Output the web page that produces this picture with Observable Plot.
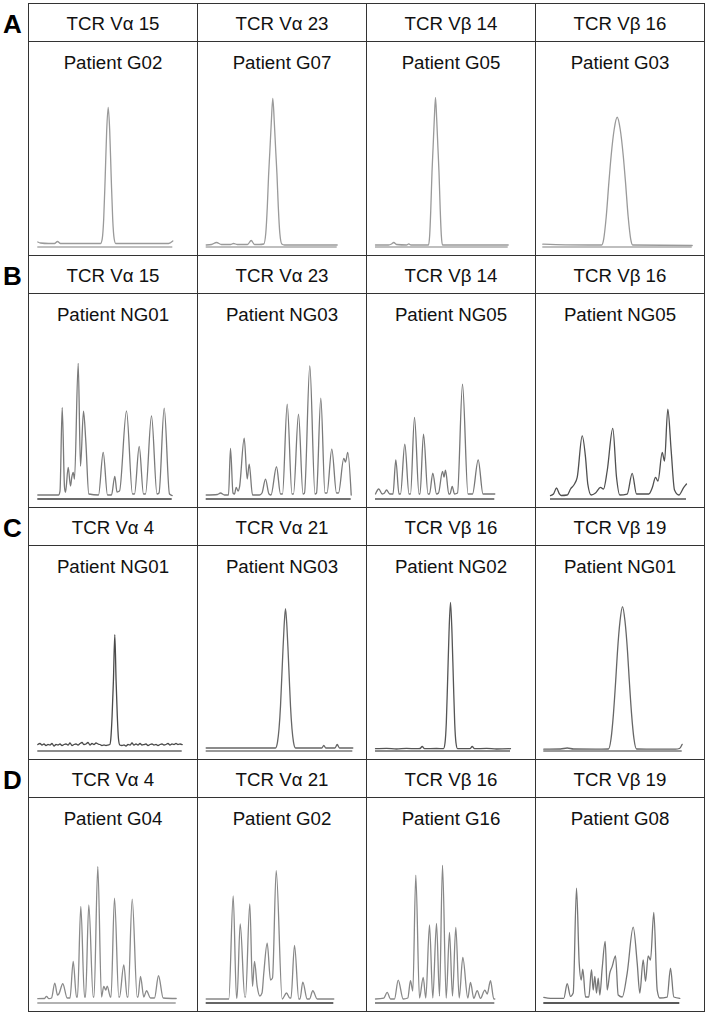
<!DOCTYPE html>
<html>
<head>
<meta charset="utf-8">
<script src="https://cdn.jsdelivr.net/npm/d3@7"></script>
<script src="https://cdn.jsdelivr.net/npm/@observablehq/plot@0.6"></script>
<style>
  html, body { margin: 0; padding: 0; background: #fff; }
  #chart svg { display: block; }
</style>
</head>
<body>
<div id="chart"></div>
<script>
// ---------- labels ----------
const rowLetters = ["A", "B", "C", "D"];
const genes = [
  ["TCR Vα 15", "TCR Vα 23", "TCR Vβ 14", "TCR Vβ 16"],
  ["TCR Vα 15", "TCR Vα 23", "TCR Vβ 14", "TCR Vβ 16"],
  ["TCR Vα 4", "TCR Vα 21", "TCR Vβ 16", "TCR Vβ 19"],
  ["TCR Vα 4", "TCR Vα 21", "TCR Vβ 16", "TCR Vβ 19"]
];
const patients = [
  ["Patient G02", "Patient G07", "Patient G05", "Patient G03"],
  ["Patient NG01", "Patient NG03", "Patient NG05", "Patient NG05"],
  ["Patient NG01", "Patient NG03", "Patient NG02", "Patient NG01"],
  ["Patient G04", "Patient G02", "Patient G16", "Patient G08"]
];

// ---------- traces: [position, intensity] ----------
const traceA1 = [[9.3,5],[12,4],[20,3.5],[26,3.5],[29,5.5],[32,3.5],[50,3.5],[72,3.5],[73.7,8],[75.2,28],[76.7,70],[78.2,117],[79.7,140],[81.2,117],[82.7,70],[84.2,28],[85.7,8],[87.2,3.5],[120,3.5],[140,3.5],[144.3,6]];
const traceA2 = [[8.7,2],[14,2.5],[19,4.5],[24,2.5],[33,2.5],[36,3.5],[40,2.5],[50,2.5],[53.7,6.5],[57,2.5],[62,2.5],[66.3,3],[68.3,14],[69.8,40],[71.1,72],[72.3,95],[73.8,125],[75.3,149],[76.8,125],[78.3,95],[79.5,72],[80.8,40],[82.3,14],[84.3,3],[87,2],[139.7,2]];
const traceA3 = [[9,2],[22,2],[25,3],[27.3,4.5],[30,2.5],[40,2],[42.3,3.2],[44.5,2],[62,2],[63.2,12],[64.3,38],[65.5,75],[66.6,100],[67.8,128],[69,150],[70.2,128],[71.4,100],[72.5,75],[73.7,38],[74.8,12],[76,2],[141.7,2]];
const traceA4 = [[7.3,2.8],[30,2.2],[66.2,2],[68.2,8],[70.7,30],[73.4,65],[75.7,92],[78.7,118],[81.7,130],[84.7,118],[87.7,92],[90,65],[92.7,30],[95.2,8],[97.2,2],[156.7,1.5]];

const traceB1 = [[9.3,4],[30,4],[31.5,8],[33.7,91.7],[36,12],[37,6.7],[39.7,31.7],[42,13],[43.3,22],[44.7,26.7],[46,20],[49.7,136],[52,33],[55,88],[57.3,58],[60.3,5],[70,4],[74.7,46.7],[79,4],[83,4],[86.3,22.7],[88.5,7],[91,8],[98,88.3],[104,5],[106,5],[110.7,52.7],[115,5],[117,5],[123,83.3],[128.5,5],[130.5,6],[135.7,91],[141,5],[143.7,3.5]];
const traceB2 = [[8.7,4],[20,4.5],[23,6],[27,4],[31,4],[33,50.7],[35.5,6],[37,5],[38.7,11.7],[40.5,8],[42,12],[46.7,61],[49.7,20],[51.7,35],[55,4],[62,4],[64.5,6],[68,20],[71.5,5],[73.5,4],[79,32.3],[83,5],[85,5],[89.7,95],[94.5,5],[96,5],[101,85],[105.5,5],[107,6],[112.3,133.3],[117.5,5],[119,6],[123.3,101],[127.5,6],[129.5,6],[134.3,50],[139,6],[141,6],[146.3,40.7],[148,37],[150.3,46.7],[153.7,4]];
const traceB3 = [[9,5],[12.3,10],[15.7,5],[18,6],[20,9],[23.3,5],[26.5,5],[29.3,39.3],[32.5,5],[34,5],[38.3,55],[42.5,5],[44,5],[48,81.7],[52.5,5],[53.5,5],[57,65],[61.5,5],[63,5],[66.3,26],[70,5],[72,6],[76,27.7],[77.5,22],[79,29],[82.3,5],[83.5,5],[85.7,12.7],[88,5],[91,6],[96,115],[101.5,5],[106,5],[111.7,39.3],[116.5,5],[128.3,5]];
const traceB4 = [[15,3.3],[18,5],[21,11],[24,5],[25.7,3.5],[31.7,4],[35,10],[39,15],[41.7,21.7],[46.7,63.3],[50,42],[52.3,15],[55.7,4],[60,6],[65,11.7],[68,10],[71.7,28.3],[77.3,70.7],[81,22],[84.3,4],[91.7,5],[96.7,25.7],[101,5],[113.3,5],[117,12],[120,21.7],[122.5,18],[126.7,46.7],[129,38],[132.3,90],[135.7,48],[139,9],[143.3,4],[148.3,11.7],[151,15]];

const traceC1 = [[9.3,6.5],[11.5,7.5],[13.5,6],[15.5,7],[17.5,5.5],[19.5,6.5],[21.5,6],[23.5,7.5],[25.5,5],[27.5,6.5],[29.5,6],[31.5,7],[33.5,5.5],[35.5,6.5],[37.5,7],[39.5,6],[41.5,8],[43.5,5.5],[45.5,6.5],[47.5,7],[49.5,6],[51.5,7.5],[53.5,8.5],[55.5,6.5],[57.5,7],[59.5,8.5],[61.5,6],[63.5,7.5],[65.5,6.5],[67.5,8],[69.5,7],[71.5,6.5],[73.5,5.5],[75.5,6],[77.5,5.5],[79.5,6],[81.3,6.5],[82.3,12],[83.6,35],[84.9,70],[86.3,116.7],[87.6,70],[88.8,35],[90,12],[91.3,6],[93.5,5.5],[95.5,6],[97.5,5],[99.5,6.5],[101.5,6],[103.5,8],[105.5,6],[107.5,7],[109.5,6],[111.5,7.5],[113.5,6],[115.5,6.5],[117.5,7],[119.5,5.5],[121.5,6.5],[123.5,7],[125.5,6],[127.5,6.5],[129.5,5.5],[131.5,6.5],[133.5,7],[135.5,6],[137.5,6.5],[139.5,7.5],[141.5,6],[143.5,7],[145.5,6.5],[147.5,7.5],[149.5,6.5],[151.5,7],[153.7,6.5]];
const traceC2 = [[8.7,3],[40,3],[78,3],[80,9],[81.5,22],[83,45],[84.2,72],[85.4,100],[86.6,125],[88,142.7],[89.4,125],[90.6,100],[91.8,72],[93,45],[94.5,22],[96,9],[98,3],[122,3],[124.3,3],[126.3,5.5],[128.3,3],[137.5,3],[139.7,6.5],[142,3],[155.3,3]];
const traceC3 = [[9,2.3],[20,2.6],[30,2],[40,2.6],[50,2.3],[53.5,2.5],[55.7,4.5],[58,2.3],[70,2.5],[77,2.3],[78.5,8],[79.8,28],[81.1,70],[82.5,118],[84,149],[85.5,118],[86.9,70],[88.2,28],[89.5,8],[91,2.3],[103.5,2.3],[105.7,4.5],[108,2.3],[120,2.6],[130,2],[144,2.3]];
const traceC4 = [[8.3,1.8],[25,2],[31.7,3],[38,2],[60,1.8],[73,2],[75.5,12],[78,38],[80.3,72],[82,100],[84.5,130],[87,144.7],[89.5,130],[92,100],[93.7,72],[96,38],[98.5,12],[101,2],[120,1.8],[140,1.8],[144,2.5],[146.7,6.7]];

const traceD1 = [[9.3,4.3],[16,4.5],[18,6.7],[20.5,4.3],[23,5],[26.3,20],[29,8],[30.3,9],[34.3,19.3],[38.7,5],[41.5,5],[44.7,41.7],[48,6],[49,6],[52.3,96.7],[56,6],[57,6],[60.3,98.3],[64.7,6],[65.5,6],[69.3,136.7],[73,6],[75.3,16.7],[77.3,13],[78.7,17],[82,6],[82.5,6],[86,105],[90.3,6],[91,6],[95.3,38.3],[98.7,6],[99.5,6],[103.7,104],[108.7,6],[109.5,6],[112,26.7],[115.3,6],[118,12.3],[122,5],[126,5],[130,27.3],[134.7,5],[147.7,4.5]];
const traceD2 = [[8.7,4],[31.3,4],[35.7,107.3],[39,5],[39.5,5],[42.7,79.3],[47.3,6],[48,6],[52.3,99.3],[55,16.7],[57,41.7],[59.7,16.7],[62.3,7],[64.5,10],[66.3,30],[69.7,60],[73,23],[75,25],[78.7,132.7],[84.7,4],[89,10],[92.3,5],[93.5,5],[97,57.7],[101.3,4],[102.5,4],[105.3,21],[109.7,4],[112,4],[115.3,12.3],[119.7,4],[136.3,4]];
const traceD3 = [[9,4],[17.3,5],[20.7,10.7],[24,4],[28,4],[31.7,23],[36.7,4],[41.3,5],[44,22.3],[46.3,12],[49.3,128],[53,5],[56.7,25.7],[59.3,5],[63,78.3],[66.3,5],[70,79.7],[73,7],[76,138],[79.7,5],[83,70.7],[86,7],[89.3,75.7],[92.7,5],[96.3,45.7],[101.3,5],[104,20.7],[107.3,4.7],[110.7,12.3],[114,4.7],[118.3,13],[120.7,9],[124,22.3],[127.3,4],[128.3,4]];
const traceD4 = [[8.3,5.7],[15,4.7],[28.3,4.7],[31.7,19.3],[35,6.7],[37.7,10],[41,115],[43.7,40],[45.7,23],[47.3,34],[50,6],[53.3,6],[56,33.3],[57.7,13],[59.3,26.7],[61,10],[62.7,25],[64.3,8],[66.7,35],[69.7,61.7],[71.7,13],[74.3,30],[76.7,36.7],[80,47.3],[82.7,8],[86.7,6],[91.7,30],[97.7,76],[101.7,40],[104.3,10],[107.7,43.3],[110,21.7],[112.7,47.3],[115,43],[118.3,90.7],[121.7,13],[124.3,5],[131.7,6],[135,35],[138.3,6],[144.3,4.7]];

const traces = [
  [traceA1, traceA2, traceA3, traceA4],
  [traceB1, traceB2, traceB3, traceB4],
  [traceC1, traceC2, traceC3, traceC4],
  [traceD1, traceD2, traceD3, traceD4]
];

// ---------- styles ----------
const traceColors = [
  ["#9a9a9a", "#9a9a9a", "#9a9a9a", "#9a9a9a"],
  ["#7a7a7a", "#7a7a7a", "#777777", "#505050"],
  ["#4a4a4a", "#666666", "#555555", "#666666"],
  ["#8a8a8a", "#888888", "#888888", "#777777"]
];
const axisColors = [
  ["#aaaaaa", "#aaaaaa", "#aaaaaa", "#aaaaaa"],
  ["#3a3a3a", "#444444", "#555555", "#555555"],
  ["#666666", "#777777", "#666666", "#777777"],
  ["#999999", "#333333", "#666666", "#222222"]
];

// ---------- tables ----------
const cells = [];
for (let r = 0; r < 4; r++) for (let c = 0; c < 4; c++) cells.push({row: r, col: c});

const points = cells.flatMap(({row, col}) =>
  traces[row][col].map(([x, h]) => ({row, col, key: row * 4 + col, x, h, color: traceColors[row][col]})));
const axes = cells.map(({row, col}) => {
  const xs = traces[row][col].map(d => d[0]);
  return {row, col, x1: d3.min(xs), x2: d3.max(xs), color: axisColors[row][col]};
});
const headers = cells.map(({row, col}) => ({row, col, gene: genes[row][col], patient: patients[row][col]}));
const letters = rowLetters.map((t, row) => ({row, col: 0, t}));

const W = 706, H = 1015, mT = 2, mB = 3;
const bandH = (H - mT - mB) / 4;

const chart = Plot.plot({
  width: W,
  height: H,
  marginLeft: 28,
  marginRight: 2,
  marginTop: mT,
  marginBottom: mB,
  style: {fontFamily: "'Liberation Sans', Arial, sans-serif", background: "#fff", color: "#111"},
  fx: {domain: [0, 1, 2, 3], padding: 0, axis: null},
  fy: {domain: [0, 1, 2, 3], padding: 0, axis: null},
  x: {domain: [0, 169], axis: null},
  y: {domain: [0, 244], axis: null, insetBottom: bandH - 244},
  marks: [
    Plot.ruleY(axes, {fx: "col", fy: "row", y: () => 0, x1: "x1", x2: "x2", stroke: "color", strokeWidth: 1.3}),
    Plot.line(points, {fx: "col", fy: "row", x: "x", y: "h", z: "key", stroke: "color", strokeWidth: 1.3, curve: "monotone-x"}),
    Plot.frame({stroke: "#333", strokeWidth: 1}),
    Plot.frame({stroke: "#333", strokeWidth: 1, insetBottom: bandH - 38.5}),
    Plot.text(headers, {fx: "col", fy: "row", text: "gene", frameAnchor: "top", lineAnchor: "bottom", dy: 26.7, fontSize: 18.7, fill: "#111"}),
    Plot.text(headers, {fx: "col", fy: "row", text: "patient", frameAnchor: "top", lineAnchor: "bottom", dy: 65, fontSize: 18.7, fill: "#111"}),
    Plot.text(letters, {fx: "col", fy: "row", text: "t", frameAnchor: "top-left", textAnchor: "middle", lineAnchor: "bottom", dx: -16, dy: 29, fontSize: 26, fontWeight: "bold", fill: "#000"})
  ]
});
document.getElementById("chart").appendChild(chart);
</script>
</body>
</html>
